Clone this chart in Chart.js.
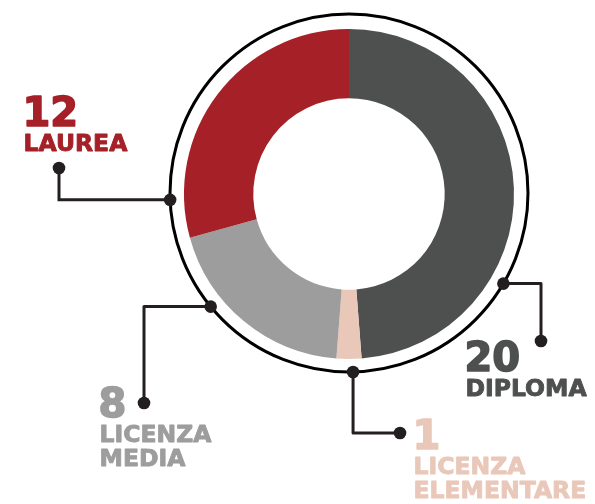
<!DOCTYPE html>
<html>
<head>
<meta charset="utf-8">
<script src="https://cdn.jsdelivr.net/npm/chart.js@4"></script>
<style>
  html, body { margin: 0; padding: 0; background: #fff; }
  #wrap { width: 595px; height: 504px; }
</style>
</head>
<body>
<div id="wrap"><canvas id="grafico" width="595" height="504"></canvas></div>
<script>
var categorie = ["DIPLOMA", "LICENZA ELEMENTARE", "LICENZA MEDIA", "LAUREA"];
var valori = [20, 1, 8, 12];
var colori = ["#4e504f", "#e9c8b9", "#9d9d9d", "#a52027"];

// callout: angle of the dot on the ring (deg clockwise from top), elbow, end dot, text
var richiami = [
  { i: 3, ang: 267.8, first: "h", end: [59, 168], text: [24, 126], lines: ["LAUREA"] },
  { i: 0, ang: 120.4, first: "h", end: [541, 341], text: [466, 371], lines: ["DIPLOMA"] },
  { i: 1, ang: 178.7, first: "v", end: [400, 433], text: [414, 449], lines: ["LICENZA", "ELEMENTARE"] },
  { i: 2, ang: 230.6, first: "h", end: [144, 403], text: [100, 417], lines: ["LICENZA", "MEDIA"] }
];

var font = "'DejaVu Sans', sans-serif";

function scrivi(ctx, t, x, y) {
  ctx.fillText(t, x, y);
  ctx.strokeText(t, x, y);
}

var richiamiPlugin = {
  id: "richiami",
  afterDraw: function (chart) {
    var ctx = chart.ctx;
    var arc = chart.getDatasetMeta(0).data[0];
    var cx = arc.x, cy = arc.y - 1;
    var rr = arc.outerRadius + 14;

    ctx.save();
    ctx.strokeStyle = "#000";
    ctx.lineWidth = 3;
    ctx.beginPath();
    ctx.arc(cx, cy, rr, 0, Math.PI * 2);
    ctx.stroke();

    richiami.forEach(function (r) {
      var a = r.ang * Math.PI / 180;
      var sx = cx + rr * Math.sin(a);
      var sy = cy - rr * Math.cos(a);
      var ex = r.end[0], ey = r.end[1];
      ctx.strokeStyle = "#231f20";
      ctx.lineWidth = 3;
      ctx.beginPath();
      ctx.moveTo(sx, sy);
      if (r.first === "h") ctx.lineTo(ex, sy);
      else ctx.lineTo(sx, ey);
      ctx.lineTo(ex, ey);
      ctx.stroke();
      ctx.fillStyle = "#231f20";
      [[sx, sy], [ex, ey]].forEach(function (p) {
        ctx.beginPath();
        ctx.arc(p[0], p[1], 6.3, 0, Math.PI * 2);
        ctx.fill();
      });

      ctx.fillStyle = colori[r.i];
      ctx.strokeStyle = colori[r.i];
      ctx.lineJoin = "round";
      ctx.textBaseline = "alphabetic";
      ctx.textAlign = "left";
      ctx.lineWidth = 1.6;
      ctx.font = "bold 40px " + font;
      scrivi(ctx, String(valori[r.i]), r.text[0] - 1.5, r.text[1]);
      ctx.lineWidth = 0.9;
      ctx.font = "bold 23.5px " + font;
      r.lines.forEach(function (t, k) {
        scrivi(ctx, t, r.text[0] - 0.5, r.text[1] + 25 + k * 24);
      });
    });
    ctx.restore();
  }
};

new Chart(document.getElementById("grafico"), {
  type: "doughnut",
  data: {
    labels: categorie,
    datasets: [{
      data: valori,
      backgroundColor: colori,
      borderWidth: 0
    }]
  },
  options: {
    responsive: false,
    animation: false,
    cutout: "58%",
    layout: { padding: { left: 184, right: 81, top: 29, bottom: 145 } },
    plugins: { legend: { display: false }, tooltip: { enabled: false } }
  },
  plugins: [richiamiPlugin]
});
</script>
</body>
</html>
